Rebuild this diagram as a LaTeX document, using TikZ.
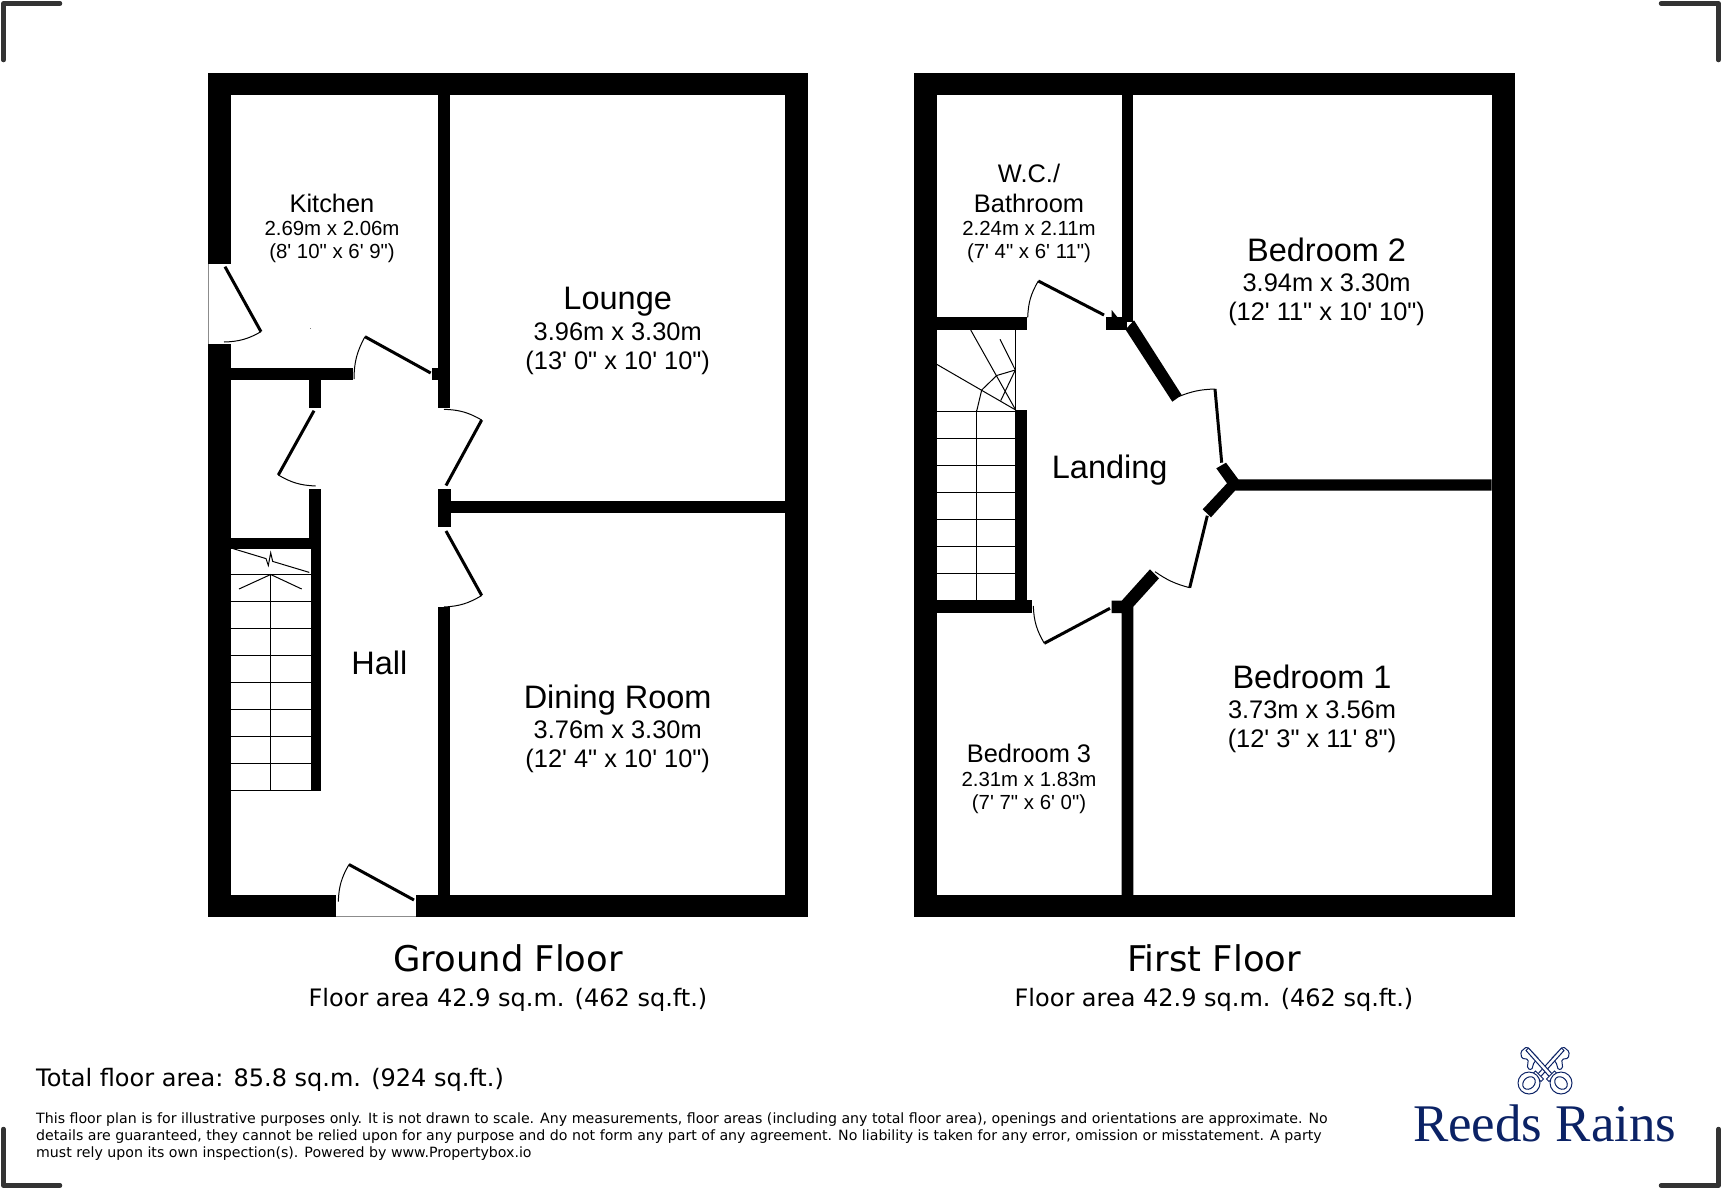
\documentclass[tikz,border=0pt]{standalone}
\usepackage{fontspec}
\newfontfamily\roomfont{Liberation Sans}
\newfontfamily\planfont{DejaVu Sans}
\newfontfamily\logofont{Liberation Serif}
\definecolor{reedsblue}{HTML}{0B2265}
\definecolor{cropgrey}{HTML}{333333}
\tikzset{
	wall/.style={fill=black},
	gap/.style={fill=white},
	leaf/.style={line width=3pt},
	swing/.style={line width=1pt},
	tread/.style={line width=1pt},
	cropmark/.style={line width=4.5pt,color=cropgrey,line cap=round,line join=round},
	bigroom/.style={align=center,inner sep=0pt,font=\roomfont\fontsize{25.4}{29}\selectfont},
	smallroom/.style={align=center,inner sep=0pt,font=\roomfont\fontsize{20.4}{23}\selectfont},
	bigword/.style={inner sep=0pt,font=\roomfont\fontsize{32.5}{36}\selectfont},
	floortitle/.style={inner sep=0pt,font=\planfont\fontsize{35.4}{40}\selectfont},
	floorarea/.style={inner sep=0pt,font=\planfont\fontsize{24}{28}\selectfont},
	keyline/.style={line width=1pt,color=reedsblue,fill=white}
}
% one key of the logo, bow at lower left, bit at upper right
\def\logokey{
	\draw[keyline,rounded corners=1.5pt] (18.3,-38.3) -- (24.3,-33.3) -- (23.3,-26.7) -- (16.7,-25.7)
		-- (17.7,-16.7) -- (13.3,-15) -- (11,-23) -- (6,-26) -- cycle;
	\draw[keyline] (-9,-9) -- (16.5,-37) -- (19,-34.5) -- (-6,-6.5) -- cycle;
	\draw[keyline] (-9.5,-14) -- (-1.5,-6) -- (-4,-3.5) -- (-12,-11.5) -- cycle;
	\draw[keyline] (-16,-2) circle (11);
	\draw[keyline,rotate around={45:(-16,-2)}] (-16,-2) ellipse (7 and 5.5);
}

\begin{document}
\begin{tikzpicture}[x=1pt,y=-1pt]
	\useasboundingbox (0,0) rectangle (1722,1189);
	%%%%% corner marks %%%%%
	\draw[cropmark] (3.5,60) -- (3.5,3.5) -- (60,3.5);
	\draw[cropmark] (1661,3.5) -- (1718.5,3.5) -- (1718.5,60);
	\draw[cropmark] (3.5,1129) -- (3.5,1185.5) -- (60,1185.5);
	\draw[cropmark] (1661,1185.5) -- (1718.5,1185.5) -- (1718.5,1129);

	%%%%% ground floor %%%%%
	\fill[wall] (208,73) rectangle (808,917);
	\fill[gap] (231,95) rectangle (785,895);
	\fill[gap] (207,264) rectangle (231,344);
	\fill[gap] (336,895) rectangle (416,916);
	\draw[line width=0.6pt,black!45] (208,264) -- (208,344);
	\draw[line width=0.6pt,black!45] (336,916.5) -- (416,916.5);

	\fill[wall] (438,95) rectangle (450,408);
	\fill[wall] (438,489) rectangle (451,527);
	\fill[wall] (451,501) rectangle (785,513);
	\fill[wall] (438,607) rectangle (450,895);
	\fill[wall] (231,368) rectangle (353,380);
	\fill[wall] (432,368) rectangle (438,380);
	\fill[wall] (309,380) rectangle (321,408);
	\fill[wall] (309,489) rectangle (321,549);
	\fill[wall] (311,549) rectangle (321,790.5);
	\fill[wall] (231,538) rectangle (309,549);
	\fill[black!50] (309.5,327.5) rectangle (311,329);

	% stairs
	\foreach \k in {0,...,8}
		\draw[tread] (231,790.5-27*\k) -- (311,790.5-27*\k);
	\draw[tread] (270.7,574.5) -- (270.7,790.5);
	\draw[tread] (239,589) -- (270.7,574.5) -- (301.7,589);
	\draw[tread] (231,548) -- (266,558.6) -- (268.3,565.5) -- (270.7,552.8) -- (272.7,561.4) -- (309.3,572.4);

	% doors
	\draw[leaf] (225,266.7) -- (261,331.7);
	\draw[swing] (261,331.7) to[bend left=14] (224,342);
	\draw[leaf] (365,336.7) -- (430.7,373);
	\draw[swing] (365,336.7) to[bend right=14] (354,379);
	\draw[leaf] (314,410.7) -- (278.3,475);
	\draw[swing] (278.3,475) to[bend right=14] (315.7,486);
	\draw[leaf] (481.7,420) -- (446,485.5);
	\draw[swing] (444,409.3) to[bend left=14] (481.7,420);
	\draw[leaf] (446,531) -- (481.7,595.5);
	\draw[swing] (481.7,595.5) to[bend left=14] (444,607);
	\draw[leaf] (349,864.5) -- (414,900);
	\draw[swing] (349,864.5) to[bend right=14] (338.3,901.7);

	\node[smallroom] (kitchen) at (332,228.2)
		{{\fontsize{25.4}{29}\selectfont Kitchen}\\2.69m x 2.06m\\(8' 10" x 6' 9")};
	\node[bigroom] (lounge) at (617.7,330.8)
		{{\fontsize{32.5}{36}\selectfont Lounge}\\[1.5pt]3.96m x 3.30m\\(13' 0" x 10' 10")};
	\node[bigroom] (dining) at (617.7,729)
		{{\fontsize{32.5}{36}\selectfont Dining Room}\\[1.5pt]3.76m x 3.30m\\(12' 4" x 10' 10")};
	\node[bigword] (hall) at (379.4,663) {Hall};
	\node[floortitle] (groundtitle) at (508,958) {Ground Floor};
	\node[floorarea] (groundarea) at (508,1000) {Floor area 42.9 sq.m. (462 sq.ft.)};

	%%%%% first floor %%%%%
	\fill[wall] (914,73) rectangle (1514.5,917);
	\fill[gap] (936.7,95) rectangle (1491.5,895);

	\fill[wall] (1121.7,95) rectangle (1133.3,322);
	\fill[wall] (1105.7,317.3) rectangle (1126.7,330);
	\fill[wall] (1111.7,310) -- (1118.3,318.3) -- (1111.7,318.3) -- cycle;
	\fill[wall] (1134,320.3) -- (1181.7,395) -- (1172.3,401.7) -- (1125.5,329.5) -- cycle;
	\fill[wall] (936.7,317.3) rectangle (1026.7,330);
	\fill[wall] (1216.3,468.3) -- (1226,462.7) -- (1238.3,479.3) -- (1491.5,479.3) -- (1491.5,490.7)
		-- (1235,490.7) -- (1211,517.3) -- (1202.7,509.3) -- (1227,483.3) -- cycle;
	\fill[wall] (1150,569.3) -- (1159,578.3) -- (1133.3,606.7) -- (1133.3,895) -- (1121.7,895)
		-- (1121.7,613) -- (1111.7,613) -- (1111.7,600.7) -- (1121.7,600.7) -- cycle;
	\fill[wall] (936.7,600) rectangle (1031.7,612.7);
	\fill[wall] (1015.3,410) rectangle (1027.3,600);

	% stairs
	\foreach \k in {0,...,6}
		\draw[tread] (936.7,411+27*\k) -- (1015.3,411+27*\k);
	\draw[tread] (976.7,410) -- (976.7,600);
	\draw[tread] (1015.7,330) -- (1015.7,410);
	\draw[tread] (970.7,330) -- (1015.7,410);
	\draw[tread] (936.7,364.3) -- (1015.7,410);
	\draw[tread] (1000,339.3) -- (1015.3,370) -- (1000.7,400.7);
	\draw[tread] (976.7,411) -- (981.7,390) -- (996.7,375.5) -- (1015.3,370);

	% doors
	\draw[leaf] (1038.3,281) -- (1104,315);
	\draw[swing] (1038.3,281) to[bend right=14] (1027.7,317.3);
	\draw[swing] (1178.3,396.7) to[bend left=10] (1215,389);
	\draw[leaf] (1215,389) -- (1221.7,462.7);
	\draw[leaf] (1207.3,515.7) -- (1189.7,587.7);
	\draw[swing] (1189.7,587.7) to[bend left=10] (1155,571.7);
	\draw[leaf] (1110,608.3) -- (1044.3,643.3);
	\draw[swing] (1044.3,643.3) to[bend left=14] (1033.3,606);

	\node[smallroom] (bathroom) at (1029,213.5)
		{{\fontsize{25.4}{29}\selectfont W.C./}\\[7pt]{\fontsize{25.4}{29}\selectfont Bathroom}\\2.24m x 2.11m\\(7' 4" x 6' 11")};
	\node[bigroom] (bedtwo) at (1326.6,282)
		{{\fontsize{32.5}{36}\selectfont Bedroom 2}\\[1.5pt]3.94m x 3.30m\\(12' 11" x 10' 10")};
	\node[bigroom] (bedone) at (1312,709)
		{{\fontsize{32.5}{36}\selectfont Bedroom 1}\\[1.5pt]3.73m x 3.56m\\(12' 3" x 11' 8")};
	\node[smallroom] (bedthree) at (1029,779)
		{{\fontsize{25.4}{29}\selectfont Bedroom 3}\\[1pt]2.31m x 1.83m\\(7' 7" x 6' 0")};
	\node[bigword] (landing) at (1109.7,470) {Landing};
	\node[floortitle] (firsttitle) at (1214,958) {First Floor};
	\node[floorarea] (firstarea) at (1214,1000) {Floor area 42.9 sq.m. (462 sq.ft.)};

	%%%%% footer %%%%%
	\node[inner sep=0pt,anchor=west,font=\planfont\fontsize{24}{28}\selectfont] (total) at (36,1080)
		{Total floor area: 85.8 sq.m. (924 sq.ft.)};
	\node[inner sep=0pt,anchor=north west,align=left,font=\planfont\fontsize{14.16}{17}\selectfont] (notice) at (36,1113)
		{This floor plan is for illustrative purposes only. It is not drawn to scale. Any measurements, floor areas (including any total floor area), openings and orientations are approximate. No\\
		details are guaranteed, they cannot be relied upon for any purpose and do not form any part of any agreement. No liability is taken for any error, omission or misstatement. A party\\
		must rely upon its own inspection(s). Powered by www.Propertybox.io};

	%%%%% logo %%%%%
	\begin{scope}[shift={(1545,1085)}]
		\logokey
	\end{scope}
	\begin{scope}[shift={(1545,1085)},xscale=-1]
		\logokey
	\end{scope}
	\node[inner sep=0pt,anchor=base west,text=reedsblue,font=\logofont\fontsize{52.9}{56}\selectfont] (logo) at (1413,1141) {Reeds Rains};
\end{tikzpicture}
\end{document}
